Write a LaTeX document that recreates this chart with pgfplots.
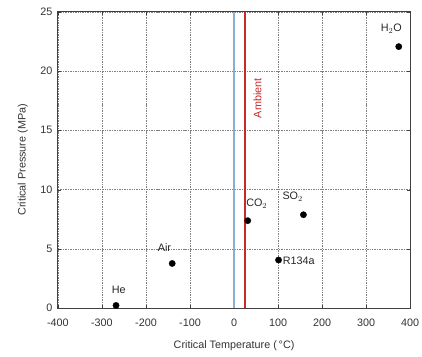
\documentclass[border=0pt]{standalone}
\usepackage{pgfplots}
\pgfplotsset{compat=1.18}
\usepackage{fontspec}
\setmainfont{Liberation Sans}
\definecolor{ambred}{RGB}{200,40,40}
\definecolor{zeroblue}{RGB}{140,175,205}
\begin{document}
\begin{tikzpicture}
\begin{axis}[
  scale only axis, width=359pt, height=302pt,
  xmin=-400, xmax=400, ymin=0, ymax=25,
  xtick={-400,-300,...,400}, ytick={0,5,...,25},
  grid=major,
  grid style={black!50, dash pattern=on 1.5pt off 1pt, line width=0.5pt},
  axis line style={black!75, line width=0.9pt},
  tick align=inside, major tick length=3pt,
  tick style={black!75},
  xticklabel style={font=\fontsize{11}{13}\selectfont, text=black!80, yshift=-7pt},
  yticklabel style={font=\fontsize{11}{13}\selectfont, text=black!80, xshift=-2pt},
  /pgf/number format/assume math mode=true,
  xlabel={Critical Temperature (\,°C)},
  ylabel={Critical Pressure (MPa)},
  label style={font=\fontsize{11}{13}\selectfont, text=black!80},
  xlabel style={yshift=-8pt},
  ylabel style={yshift=6pt},
]
\addplot[zeroblue, line width=1.2pt] coordinates {(0,0) (0,25)};
\addplot[ambred, line width=2pt] coordinates {(25,0) (25,25)};
\addplot[only marks, mark=*, mark size=3.2pt, black] coordinates {
  (-268,0.23) (-140.5,3.77) (31,7.38) (157.5,7.88) (101,4.06) (374,22.06)
};
\node[ambred, rotate=90, font=\fontsize{11}{13}\selectfont] at (axis cs:53,17.7) {Ambient};
\begin{scope}[every node/.style={font=\fontsize{11}{13}\selectfont, text=black!85}]
\node[anchor=south] at (axis cs:-262,0.9) {He};
\node[anchor=south] at (axis cs:-158,4.5) {Air};
\node[anchor=south west, inner sep=1pt] at (axis cs:25,8.3) {CO$_2$};
\node[anchor=south] at (axis cs:133,8.7) {SO$_2$};
\node[anchor=west, inner sep=1pt] at (axis cs:108,4.0) {R134a};
\node[anchor=south] at (axis cs:357,22.9) {H$_2$O};
\end{scope}
\end{axis}
\pgfresetboundingbox
\useasboundingbox ([xshift=-59pt,yshift=-49pt]current axis.south west) rectangle ([xshift=12pt,yshift=12pt]current axis.north east);
\end{tikzpicture}
\end{document}
